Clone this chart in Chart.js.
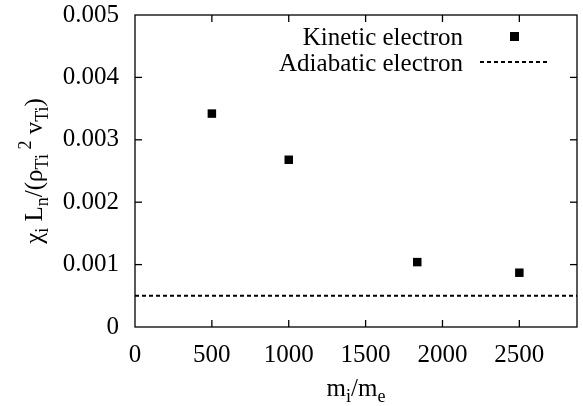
<!DOCTYPE html>
<html>
<head>
<meta charset="utf-8">
<script src="https://cdn.jsdelivr.net/npm/chart.js"></script>
<style>
body{margin:0;background:#fff}
#wrap{width:583px;height:406px}
</style>
</head>
<body>
<div id="wrap"><canvas id="grafico"></canvas></div>
<script>
// dados
const massRatio = [500, 1000, 1836, 2500]
const kineticChi = [0.00342, 0.00268, 0.00104, 0.00087]
const adiabaticX = [0, 2875]
const adiabaticChi = [0.0005, 0.0005]
const legendLabels = ["Kinetic electron", "Adiabatic electron"]
const xRange = [0, 2875]
const yRange = [0, 0.005]
const xTicks = [0, 500, 1000, 1500, 2000, 2500]
const yTicks = [0, 0.001, 0.002, 0.003, 0.004, 0.005]
const yTickLabels = ["0", "0.001", "0.002", "0.003", "0.004", "0.005"]

const FONT = "'Liberation Serif', 'Times New Roman', serif"

// partes do texto: [texto, tipo]  tipo = n | sub | sup
const yTitle = [["χ","n"],["i","sub"],[" L","n"],["n","sub"],["/(ρ","n"],["Ti","sub"],[" ","sub"],["2","sup"],[" v","n"],["Ti","sub"],[")","n"]]
const xTitle = [["m","n"],["i","sub"],["/m","n"],["e","sub"]]

const setFont = (ctx, kind) => {
    ctx.font = (kind == "n" ? 25 : 18) + "px " + FONT
}

const drawRich = (ctx, parts, cx, baseY) => {
    let total = 0
    parts.forEach(p => { setFont(ctx, p[1]); total += ctx.measureText(p[0]).width })
    let x = cx - total / 2
    ctx.textBaseline = "alphabetic"
    ctx.textAlign = "left"
    parts.forEach(p => {
        setFont(ctx, p[1])
        let dy = 0
        if (p[1] == "sub") dy = 6
        if (p[1] == "sup") dy = -11
        ctx.fillText(p[0], x, baseY + dy)
        x += ctx.measureText(p[0]).width
    })
}

const framePlugin = {
    id: "frame",
    afterDraw(chart) {
        const ctx = chart.ctx
        const a = chart.chartArea
        const xs = chart.scales.x
        const ys = chart.scales.y
        ctx.save()
        ctx.strokeStyle = "#000"
        ctx.fillStyle = "#000"
        ctx.lineWidth = 1.3
        ctx.setLineDash([])
        ctx.strokeRect(a.left, a.top, a.right - a.left, a.bottom - a.top)
        const seg = (x1, y1, x2, y2) => { ctx.beginPath(); ctx.moveTo(x1, y1); ctx.lineTo(x2, y2); ctx.stroke() }
        xs.ticks.forEach(t => {
            const px = xs.getPixelForValue(t.value)
            if (px <= a.left + 1 || px >= a.right - 1) return
            seg(px, a.bottom, px, a.bottom - 7)
            seg(px, a.top, px, a.top + 7)
        })
        ys.ticks.forEach(t => {
            const py = ys.getPixelForValue(t.value)
            if (py <= a.top + 1 || py >= a.bottom - 1) return
            seg(a.left, py, a.left + 7, py)
            seg(a.right, py, a.right - 7, py)
        })

        // legenda
        ctx.font = "25px " + FONT
        ctx.textAlign = "right"
        ctx.textBaseline = "alphabetic"
        ctx.fillText(legendLabels[0], 463, 45)
        ctx.fillText(legendLabels[1], 463, 71)
        ctx.fillRect(510, 32, 9, 9)
        ctx.lineWidth = 2
        ctx.setLineDash([4, 3])
        seg(480, 62, 547, 62)
        ctx.setLineDash([])

        // titulos dos eixos
        drawRich(ctx, xTitle, (a.left + a.right) / 2, 396)
        ctx.save()
        ctx.translate(42, (a.top + a.bottom) / 2)
        ctx.rotate(-Math.PI / 2)
        drawRich(ctx, yTitle, 0, 0)
        ctx.restore()
        ctx.restore()
    }
}

const grafico = document.getElementById("grafico")
new Chart(grafico, {
    type: "scatter",
    data: {
        datasets: [{
            label: legendLabels[0],
            data: massRatio.map((m, i) => ({x: m, y: kineticChi[i]})),
            pointStyle: "rect",
            pointRadius: 6,
            pointHoverRadius: 6,
            borderWidth: 0,
            backgroundColor: "#000"
        }, {
            type: "line",
            label: legendLabels[1],
            data: adiabaticX.map((m, i) => ({x: m, y: adiabaticChi[i]})),
            borderColor: "#000",
            borderWidth: 2,
            borderDash: [4, 3],
            pointRadius: 0,
            fill: false
        }]
    },
    options: {
        responsive: true,
        maintainAspectRatio: false,
        animation: false,
        events: [],
        layout: {padding: {top: 15, right: 6, left: 0, bottom: 0}},
        plugins: {legend: {display: false}, tooltip: {enabled: false}},
        scales: {
            x: {
                type: "linear",
                min: xRange[0],
                max: xRange[1],
                grid: {display: false, drawTicks: false},
                border: {display: false},
                afterBuildTicks: s => { s.ticks = xTicks.map(v => ({value: v})) },
                ticks: {
                    autoSkip: false,
                    color: "#000",
                    padding: 13,
                    maxRotation: 0,
                    font: {family: FONT, size: 25},
                    callback: v => String(v)
                },
                afterFit: s => { s.height = 79; s.paddingLeft = 0; s.paddingRight = 0 }
            },
            y: {
                type: "linear",
                min: yRange[0],
                max: yRange[1],
                grid: {display: false, drawTicks: false},
                border: {display: false},
                afterBuildTicks: s => { s.ticks = yTicks.map(v => ({value: v})) },
                ticks: {
                    autoSkip: false,
                    color: "#000",
                    padding: 16,
                    font: {family: FONT, size: 25},
                    callback: (v, i) => yTickLabels[i]
                },
                afterFit: s => { s.width = 135; s.paddingTop = 0; s.paddingBottom = 0 }
            }
        }
    },
    plugins: [framePlugin]
})
</script>
</body>
</html>
